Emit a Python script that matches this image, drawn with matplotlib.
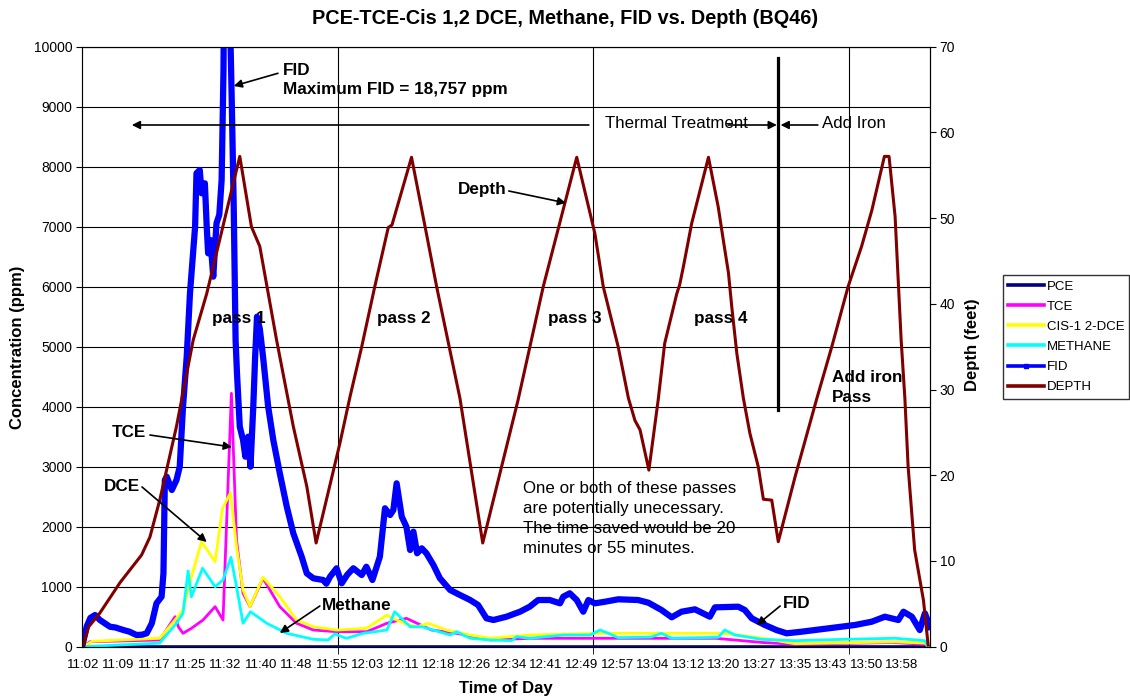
import matplotlib.pyplot as plt
from matplotlib.lines import Line2D

plt.rcParams['font.family'] = ['Liberation Sans', 'DejaVu Sans']

# time axis: minutes after 11:02
time_labels = ['11:02', '11:09', '11:17', '11:25', '11:32', '11:40', '11:48', '11:55',
               '12:03', '12:11', '12:18', '12:26', '12:34', '12:41', '12:49', '12:57',
               '13:04', '13:12', '13:20', '13:27', '13:35', '13:43', '13:50', '13:58']

pce_t = [0, 182]
pce = [0, 0]

tce_t = [0, 1.5, 16.5, 19.8, 20.5, 21.5, 23.3, 25.8, 28.4, 30.1, 31.9, 33, 34.4, 35.9,
         38.7, 42.3, 45.9, 49.5, 54.5, 61, 65.3, 69.5, 74.9, 80.3, 87.5, 96, 110, 124,
         136, 146, 153, 174, 181, 181.6]
tce = [0, 83, 112, 500, 333, 223, 306, 445, 667, 445, 4223, 1778, 890, 667,
       1140, 667, 390, 278, 250, 250, 390, 473, 278, 223, 112, 140, 140, 140,
       140, 70, 40, 70, 40, 0]

dce_t = [0, 2, 16.5, 19.8, 21.5, 22.9, 25.5, 28.4, 30, 31.7, 33, 34.4, 35.9, 38.7, 42.3,
         45.9, 49.5, 54.5, 60.9, 65.3, 67.4, 69.5, 71.8, 74.2, 78.1, 83.2, 87.5, 96,
         111, 124, 137.9, 146, 153, 174.5, 181, 181.6]
dce = [0, 90, 140, 445, 612, 1057, 1750, 1417, 2307, 2567, 1667, 945, 667, 1157, 833,
       445, 333, 278, 306, 528, 445, 378, 333, 390, 278, 195, 140, 195,
       223, 223, 223, 140, 50, 80, 60, 0]

meth_t = [0, 16.5, 20.1, 21.5, 22.6, 23.3, 25.7, 28.4, 30.1, 31.8, 33, 34.4, 36, 39.5,
          43.8, 49.5, 52.7, 54.1, 56.6, 60.2, 65.3, 67, 70.3, 72.8, 78.9, 80.3, 83.2,
          87.5, 92.1, 93.2, 96, 103.2, 109, 111.1, 112.9, 115, 122, 124.3, 126.5,
          136.5, 137.9, 140.1, 145.8, 153, 163.7, 174.5, 180.9, 181.6]
meth = [0, 60, 390, 557, 1262, 833, 1307, 1000, 1112, 1490, 1000, 390, 583, 390,
        223, 123, 112, 212, 140, 223, 278, 583, 333, 333, 195, 250, 140,
        112, 100, 167, 140, 195, 195, 278, 223, 150, 160, 223, 140,
        157, 278, 195, 123, 100, 123, 140, 100, 0]

fid_t = [0, 0.8, 1.6, 2.6, 3.65, 5.8, 7, 8.7, 10, 11.5, 12.7, 13.7, 14.8, 15.8, 16.9,
         17.3, 17.6, 18, 19.1, 20.1, 20.8, 21.5, 22.3, 23, 24.1, 24.4, 25.1, 25.5, 26.2,
         26.6, 26.9, 27.4, 28, 28.7, 29.3, 29.8, 30.2, 31.0, 31.6, 32.0, 32.4, 32.8, 33.1,
         33.7, 34.4, 34.9, 35.5, 36, 36.6, 37, 37.4, 38.0, 38.7, 39.8, 40.9, 42.3, 43.8,
         45.2, 47, 48.1, 49.5, 51.6, 52.3, 53.1, 54.5, 55.6, 56.8, 58.1, 59.9, 60.9,
         62.2, 63.8, 64.9, 66, 66.7, 67.4, 68.5, 69.5, 70.3, 71, 71.8, 72.8, 73.8, 75.3,
         76.7, 78.9, 81, 83.2, 84.9, 86.7, 88.2, 91, 93.9, 96, 97.8, 100.3, 102.5, 103.2,
         104.6, 106.1, 107.5, 108.6, 110, 112.2, 115, 119.3, 121.5, 124.3, 126.5, 128.6,
         131.5, 134.7, 135.8, 140.8, 142.2, 143.7, 146.5, 149, 151.2, 154.4, 160.1,
         165.9, 169.5, 172.3, 175.2, 176.3, 178.1, 179.8, 180.9, 182]
fid = [57, 333, 480, 528, 445, 333, 320, 278, 250, 195, 200, 223, 390, 723, 833,
       1223, 2778, 2833, 2612, 2778, 3000, 4000, 4833, 5890, 7000, 7890, 7945, 7557, 7723,
       7000, 6557, 6778, 6167, 7057, 7200, 7778, 9600, 18757, 10500, 9000, 7333, 5112, 4557,
       3667, 3445, 3167, 3500, 3000, 4000, 4833, 5500, 5300, 4833, 4000, 3445, 2890, 2333,
       1890, 1500, 1223, 1140, 1112, 1050, 1167, 1307, 1057, 1200, 1307, 1195, 1333,
       1112, 1500, 2307, 2195, 2278, 2723, 2167, 2000, 1612, 1917, 1557, 1640, 1557, 1362,
       1140, 945, 862, 778, 695, 473, 445, 500, 583, 667, 778, 778, 723, 833,
       890, 778, 583, 778, 723, 750, 790, 778, 733, 612, 490, 583,
       623, 500, 656, 667, 612, 473, 362, 278, 223, 250, 306,
       362, 417, 500, 445, 583, 500, 278, 556, 333]

depth_t = [0, 1.2, 3.6, 8, 12.6, 14.4, 16.5, 20.1, 23.7, 26.6, 33.7, 36.2, 38, 41.6, 45.2,
           48.1, 50.1, 55.2, 57.4, 59.9, 62.7, 65.6, 66.4, 70.6, 73.8, 76, 81, 85.9, 93.5,
           98.9, 106.1, 110, 111.8, 115, 117.2, 118.6, 119.7, 121.6, 123.6, 125, 127.6,
           128.2, 129, 130.8, 131.5, 134.4, 136.5, 137.6, 138.7, 139.4, 140.5, 141.9,
           143.3, 145.1, 146.2, 148, 149.4, 153, 157.6, 160.9, 164.4, 167.3, 169.5, 172.2,
           173.2, 174.5, 175.8, 176.6, 177.3, 178.7, 180.6, 181.6]
depth = [0, 2.3, 3.9, 7.5, 10.7, 12.8, 17.1, 25.7, 35.8, 41.2, 57.2, 49, 46.7, 35.8, 25.7,
         18.7, 12.1, 23.7, 29.2, 35, 42, 48.9, 49.2, 57.1, 48.2, 42, 29, 12.1, 28.8,
         42, 57.1, 48.2, 42, 35, 29, 26.4, 25.3, 20.6, 28.8, 35.4, 41.2,
         42.2, 44.3, 49.4, 50.9, 57.1, 51.3, 47.4, 43.6, 39.7, 34.2, 29,
         24.9, 21, 17.2, 17.1, 12.25, 19.8, 28.8, 35, 42, 46.7, 50.9, 57.2,
         57.2, 50.2, 35.8, 29, 21, 11.3, 5.4, 0.2]

grid_times = [54.8, 109.6, 164.6]
iron_time = 149.3
label_step = 7.652

fig = plt.figure(figsize=(11.3, 7.0), dpi=100)
ax = fig.add_axes([82 / 1130, 1 - 646.7 / 700, 848 / 1130, 600 / 700])

ax.plot(pce_t, pce, color='#000080', lw=2.6)
ax.plot(tce_t, tce, color='#FF00FF', lw=2)
ax.plot(dce_t, dce, color='#FFFF00', lw=2)
ax.plot(meth_t, meth, color='#00FFFF', lw=2)
ax.plot(fid_t, fid, color='#0000FF', lw=4.5, solid_joinstyle='round')

ax.set_xlim(-0.2, 182.0)
ax.set_ylim(0, 10000)
ax.set_yticks(range(0, 10001, 1000))
ax.set_xticks([i * label_step for i in range(len(time_labels))])
ax.set_xticklabels(time_labels, fontsize=9.5)
ax.set_xticks(grid_times, minor=True)
ax.tick_params(axis='x', which='major', length=0, pad=9)
ax.tick_params(axis='x', which='minor', length=5, direction='out')
ax.tick_params(axis='y', labelsize=10, length=4, pad=3)
ax.grid(axis='y', which='major', color='black', lw=0.8)
ax.grid(axis='x', which='minor', color='black', lw=0.8)
for s in ['top', 'left', 'bottom']:
    ax.spines[s].set_color('#606060')

ax2 = ax.twinx()
ax2.plot(depth_t, depth, color='#800000', lw=2.2)
ax2.set_ylim(0, 70)
ax2.set_yticks(range(0, 71, 10))
ax2.tick_params(axis='y', labelsize=10, length=4, pad=3)
ax2.spines['right'].set_color('black')

T = ax.transData
kw_b = dict(fontsize=12.3, fontweight='bold', transform=T)
arrow = dict(arrowstyle='-|>', color='black', lw=1.2, mutation_scale=12, shrinkA=0, shrinkB=0)


def arr(start, tip):
    ax2.annotate('', xy=tip, xycoords=T, xytext=start, textcoords=T, arrowprops=arrow)


ax2.text(43.0, 9445, 'FID\nMaximum FID = 18,757 ppm', ha='left', va='center',
         linespacing=1.3, **kw_b)
arr((41.9, 9557), (32.4, 9345))
arr((108.7, 8695), (10.5, 8695))
ax2.text(112.2, 8712, 'Thermal Treatment', fontsize=12.2, ha='left', va='center', transform=T)
arr((138.6, 8695), (149.1, 8695))
ax2.plot([iron_time, iron_time], [3945, 9812], color='black', lw=2.3, transform=T)
arr((157.9, 8695), (149.9, 8695))
ax2.text(158.8, 8712, 'Add Iron', fontsize=12.2, ha='left', va='center', transform=T)

ax2.text(91.1, 7612, 'Depth', ha='right', va='center', **kw_b)
arr((91.5, 7595), (103.8, 7395))
for xp, s in [(33.5, 'pass 1'), (68.97, 'pass 2'), (105.7, 'pass 3'), (137.1, 'pass 4')]:
    ax2.text(xp, 5462, s, ha='center', va='center', **kw_b)
ax2.text(160.9, 4320, 'Add iron\nPass', ha='left', va='center', linespacing=1.38, **kw_b)

ax2.text(13.5, 3578, 'TCE', ha='right', va='center', **kw_b)
arr((14.4, 3528), (32.0, 3328))
ax2.text(12.2, 2662, 'DCE', ha='right', va='center', **kw_b)
arr((12.7, 2662), (26.6, 1745))
ax2.text(51.4, 695, 'Methane', ha='left', va='center', **kw_b)
arr((50.9, 678), (42.3, 228))
ax2.text(150.4, 728, 'FID', ha='left', va='center', **kw_b)
arr((149.8, 678), (144.8, 362))
ax2.text(94.5, 2137, 'One or both of these passes\nare potentially unecessary.\n'
         'The time saved would be 20\nminutes or 55 minutes.',
         fontsize=12.2, ha='left', va='center', linespacing=1.43, transform=T)

fig.text(565 / 1130, 1 - 18 / 700, 'PCE-TCE-Cis 1,2 DCE, Methane, FID vs. Depth (BQ46)',
         ha='center', va='center', fontsize=14.3, fontweight='bold')
fig.text(18 / 1130, 1 - 347 / 700, 'Concentration (ppm)', rotation=90,
         ha='center', va='center', fontsize=12, fontweight='bold')
fig.text(972 / 1130, 1 - 345 / 700, 'Depth (feet)', rotation=90,
         ha='center', va='center', fontsize=12, fontweight='bold')
fig.text(506 / 1130, 1 - 689 / 700, 'Time of Day',
         ha='center', va='center', fontsize=12, fontweight='bold')

handles = [Line2D([], [], color='#000080', lw=2.6),
           Line2D([], [], color='#FF00FF', lw=2.6),
           Line2D([], [], color='#FFFF00', lw=2.6),
           Line2D([], [], color='#00FFFF', lw=2.6),
           Line2D([], [], color='#0000FF', lw=2.6, marker='s', ms=3),
           Line2D([], [], color='#800000', lw=2.6)]
names = ['PCE', 'TCE', 'CIS-1 2-DCE', 'METHANE', 'FID', 'DEPTH']
leg = fig.legend(handles, names, loc='upper left', bbox_to_anchor=(1003 / 1130, 1 - 275 / 700),
                 fontsize=9.5, frameon=True, fancybox=False, edgecolor='black',
                 handlelength=2.7, handletextpad=0.2, labelspacing=0.6,
                 borderpad=0.4, borderaxespad=0)
leg.get_frame().set_linewidth(1)

fig.savefig('out.png', dpi=100)
